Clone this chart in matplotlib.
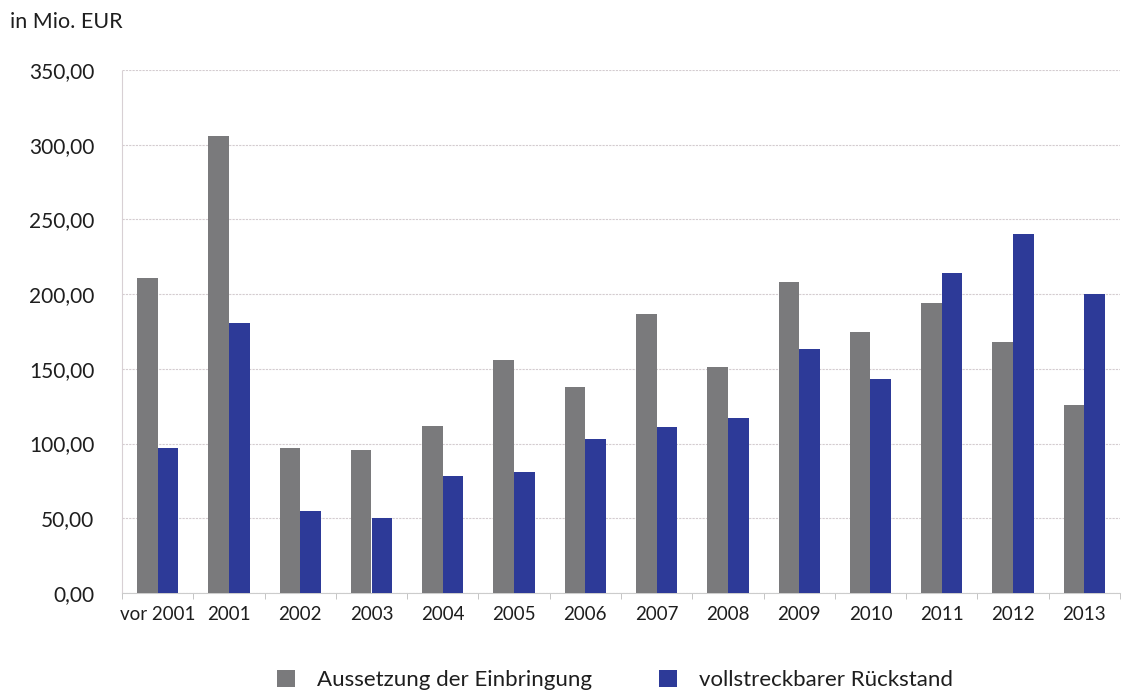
import matplotlib
matplotlib.use("Agg")
import matplotlib.pyplot as plt
import numpy as np
from matplotlib.ticker import FuncFormatter

plt.rcParams['font.family'] = ['Lato', 'DejaVu Sans']

years = ["vor 2001", "2001", "2002", "2003", "2004", "2005", "2006",
         "2007", "2008", "2009", "2010", "2011", "2012", "2013"]
aussetzung = [211, 306, 97, 96, 112, 156, 138, 187, 151, 208, 175, 194, 168, 126]
rueckstand = [97, 181, 55, 50, 78, 81, 103, 111, 117, 163, 143, 214, 240, 200]
series_names = ["Aussetzung der Einbringung", "vollstreckbarer Rückstand"]

grey = "#7a7a7c"
blue = "#2d3a98"
txt = "#1e1e1e"

fig = plt.figure(figsize=(11.33, 6.91), dpi=100)
ax = fig.add_axes([122 / 1133, 1 - 593 / 691, (1120 - 122) / 1133, (593 - 70) / 691])

x = np.arange(len(years))
w = 0.29
ax.bar(x - w / 2, aussetzung, width=w, color=grey, label=series_names[0], zorder=3)
ax.bar(x + w / 2, rueckstand, width=w, color=blue, label=series_names[1], zorder=3)

ax.set_xlim(-0.5, len(years) - 0.5)
ax.set_ylim(0, 350)
ax.set_yticks(np.arange(0, 351, 50))
ax.yaxis.set_major_formatter(FuncFormatter(lambda v, p: f"{v:.2f}".replace(".", ",")))
ax.set_xticks(x)
ax.set_xticklabels(years)
ax.set_xticks(np.arange(-0.5, len(years), 1), minor=True)

ax.grid(axis='y', color="#d4ccd0", linestyle=(0, (2, 1)), linewidth=0.8, zorder=0)
for s in ['top', 'right']:
    ax.spines[s].set_visible(False)
ax.spines['left'].set_color("#d8d0d4")
ax.spines['left'].set_linestyle((0, (2, 1)))
ax.spines['bottom'].set_color("#cccccc")
ax.tick_params(axis='y', length=0, pad=20, labelsize=15, labelcolor=txt)
ax.tick_params(axis='x', which='major', length=0, pad=9, labelsize=13.5, labelcolor=txt)
ax.tick_params(axis='x', which='minor', length=4, color="#bbbbbb")

fig.text(10 / 1133, 1 - 22 / 691, "in Mio. EUR", fontsize=15.5, color=txt, va='center')

fig.legend(loc='center', bbox_to_anchor=(615 / 1133, 1 - 680 / 691), ncol=2, frameon=False,
           fontsize=16, handlelength=0.8, handleheight=0.8, columnspacing=3.0,
           handletextpad=1.0, labelcolor=txt)

fig.savefig("out.png", dpi=100)
